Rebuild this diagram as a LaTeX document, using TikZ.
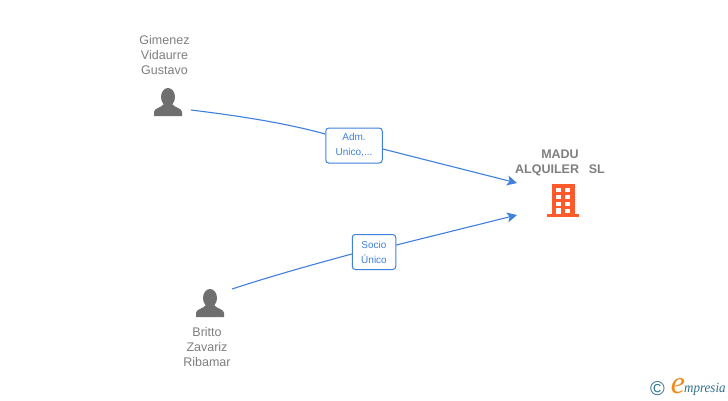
\documentclass[tikz,border=0pt]{standalone}
\usepackage{fontspec}
\setmainfont{Liberation Sans}
\newfontfamily\logofont{Liberation Serif}
\definecolor{lbl}{HTML}{7F7F7F}
\definecolor{icon}{HTML}{6F6F6F}
\definecolor{conn}{HTML}{3F80DE}
\definecolor{bld}{HTML}{FF5A2B}
\definecolor{teal}{HTML}{2F7290}
\definecolor{logoor}{HTML}{F08A1C}
\usetikzlibrary{arrows.meta}
\tikzset{
 x=1pt,y=-1pt,
 namelbl/.style={text=lbl,font=\fontsize{12.5}{15}\selectfont,align=center,inner sep=0pt},
 complbl/.style={text=lbl,font=\fontsize{12.5}{15}\selectfont\bfseries,align=center,inner sep=0pt},
 roleb/.style={draw=conn,line width=1pt,rounded corners=3pt,fill=white,text=conn,font=\fontsize{10}{15}\selectfont,align=center,inner sep=0pt},
 connl/.style={draw=conn,line width=1.1pt},
 arrowl/.style={connl,-{Stealth[length=10pt,width=10pt,inset=2.5pt]}},
 person/.pic={
  \fill[icon] (0,-1) ellipse (7 and 9);
  \fill[icon] (-14,18) -- (-14,14) .. controls (-14,10) and (-7,10) .. (-4,6) -- (4,6) .. controls (7,10) and (14,10) .. (14,14) -- (14,18) -- cycle;
 }
}
\begin{document}
\begin{tikzpicture}
\useasboundingbox (0,0) rectangle (728,400);
\fill[white] (0,0) rectangle (728,400);
% persons
\pic at (168,98) {person};
\pic at (210,299) {person};
\node[namelbl] (n1) at (164.5,55) {Gimenez\\Vidaurre\\Gustavo};
\node[namelbl] (n2) at (207,347) {Britto\\Zavariz\\Ribamar};
\node[complbl] (n3) at (560,162.5) {MADU\\ALQUILER\hspace{0.5em} SL};
% building
\fill[bld] (552,184) rectangle (575,214);
\fill[bld] (547,214) rectangle (579,217);
\foreach \yy in {188,195,202,209}{
 \fill[white] (556,\yy) rectangle (560.5,\yy+4);
 \fill[white] (565,\yy) rectangle (569.5,\yy+4);
}
\fill[white] (556,208) rectangle (560.5,214);
% connectors
\coordinate (s1) at (191,110);
\coordinate (s2) at (232,289);
\coordinate (t1) at (517,183);
\coordinate (t2) at (517,215);
\node[roleb,minimum width=56.5pt,minimum height=35pt] (r1) at (354,145.5) {Adm.\\Unico,...};
\node[roleb,minimum width=43.5pt,minimum height=35pt] (r2) at (374,252) {Socio\\Único};
\draw[connl] (s1) .. controls (240,116) and (285,123) .. (r1.west |- 0,134);
\draw[arrowl] (r1.east |- 0,149) -- (t1);
\draw[connl] (s2) .. controls (275,275) and (315,264) .. (r2.west |- 0,254);
\draw[arrowl] (r2.east |- 0,245) -- (t2);
% logo
\node[text=teal,font=\fontsize{20}{20}\selectfont,inner sep=0pt] (c) at (657.5,389) {©};
\node[text=logoor,font=\logofont\itshape\fontsize{32}{32}\selectfont,inner sep=0pt] (e) at (678,386) {e};
\node[text=teal,font=\logofont\itshape\fontsize{14}{15}\selectfont,inner sep=0pt,anchor=west,xscale=0.93] (m) at (684,389.5) {mpresia};
\end{tikzpicture}
\end{document}
